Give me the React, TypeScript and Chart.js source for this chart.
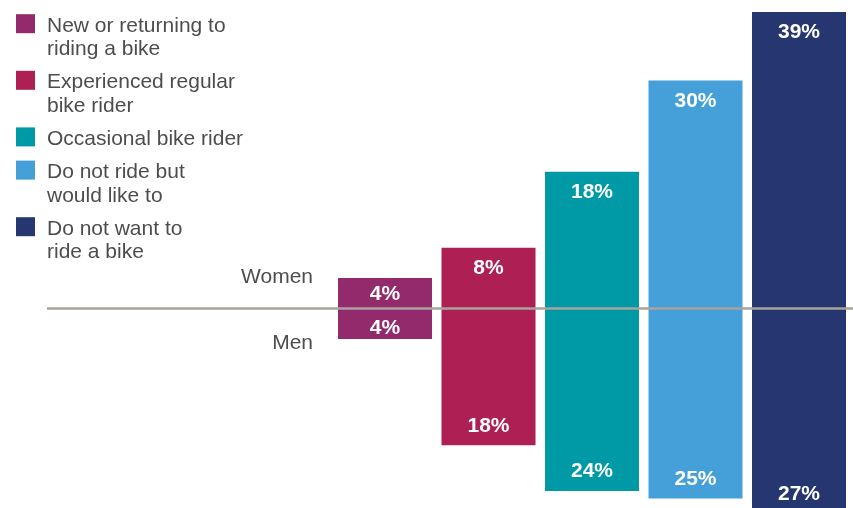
import React, { useEffect, useRef } from "react";
import { Chart, registerables } from "chart.js";

Chart.register(...registerables);

const categories = [
  "New or returning to riding a bike",
  "Experienced regular bike rider",
  "Occasional bike rider",
  "Do not ride but would like to",
  "Do not want to ride a bike",
];
const legendLines = [
  ["New or returning to", "riding a bike"],
  ["Experienced regular", "bike rider"],
  ["Occasional bike rider"],
  ["Do not ride but", "would like to"],
  ["Do not want to", "ride a bike"],
];
const women = [4, 8, 18, 30, 39];
const men = [4, 18, 24, 25, 27];
const colors = ["#922A6B", "#AE1F53", "#009AA6", "#459FD8", "#253670"];
const groupLabels = ["Women", "Men"];

const FONT = '"Liberation Sans", Arial, Helvetica, sans-serif';
const TEXT = "#4D4D4D";
const PX_PER_UNIT = 7.6;
const ZERO_Y = 308.5;
const H = 508;
const W = 853;

export default function App() {
  const ref = useRef<HTMLCanvasElement | null>(null);

  useEffect(() => {
    const canvas = ref.current;
    if (!canvas) return;

    const overlay = {
      id: "overlay",
      afterDatasetsDraw(chart: any) {
        const ctx = chart.ctx;
        const y0 = chart.scales.y.getPixelForValue(0);
        // axis line
        ctx.save();
        ctx.strokeStyle = "#A9A39E";
        ctx.lineWidth = 2.5;
        ctx.beginPath();
        ctx.moveTo(47, y0);
        ctx.lineTo(W, y0);
        ctx.stroke();

        // value labels
        ctx.fillStyle = "#FFFFFF";
        ctx.font = `bold 21px ${FONT}`;
        ctx.textAlign = "center";
        ctx.textBaseline = "alphabetic";
        chart.data.datasets.forEach((ds: any, di: number) => {
          const meta = chart.getDatasetMeta(di);
          meta.data.forEach((bar: any, i: number) => {
            const v = Math.abs(ds.data[i]);
            const top = Math.min(bar.y, bar.base);
            const bottom = Math.max(bar.y, bar.base);
            const h = bottom - top;
            let by: number;
            if (h < 45) {
              by = (top + bottom) / 2 + (di === 0 ? 7 : 10);
            } else if (di === 0) {
              by = top + 26;
            } else {
              by = bottom - 13.5;
            }
            ctx.fillText(`${v}%`, bar.x, by);
          });
        });

        // group labels
        ctx.fillStyle = TEXT;
        ctx.font = `21px ${FONT}`;
        ctx.textAlign = "right";
        ctx.fillText(groupLabels[0], 313, y0 - 25.5);
        ctx.fillText(groupLabels[1], 313, y0 + 40.5);

        // legend
        ctx.textAlign = "left";
        let base = 31.7;
        const lh = 23.4;
        legendLines.forEach((lines, i) => {
          ctx.fillStyle = colors[i];
          ctx.fillRect(16, base - 17.5, 19, 19);
          ctx.fillStyle = TEXT;
          lines.forEach((t, j) => ctx.fillText(t, 47, base + j * lh));
          base += (lines.length - 1) * lh + 33.2;
        });
        ctx.restore();
      },
    };

    const chart = new Chart(canvas, {
      type: "bar",
      data: {
        labels: categories,
        datasets: [
          {
            label: groupLabels[0],
            data: women,
            backgroundColor: colors,
            borderWidth: 0,
            categoryPercentage: 1,
            barPercentage: 94 / 103.5,
          },
          {
            label: groupLabels[1],
            data: men.map((v) => -v),
            backgroundColor: colors,
            borderWidth: 0,
            categoryPercentage: 1,
            barPercentage: 94 / 103.5,
          },
        ],
      },
      options: {
        animation: false,
        responsive: false,
        devicePixelRatio: 1,
        layout: { padding: { left: 333.25, right: 2.25, top: 0, bottom: 0 } },
        plugins: { legend: { display: false }, tooltip: { enabled: false } },
        scales: {
          x: { stacked: true, display: false, offset: true },
          y: {
            stacked: true,
            display: false,
            min: -(H - ZERO_Y) / PX_PER_UNIT,
            max: ZERO_Y / PX_PER_UNIT,
          },
        },
      },
      plugins: [overlay],
    });
    return () => chart.destroy();
  }, []);

  return (
    <div style={{ position: "absolute", left: 0, top: 0, width: W, height: H, background: "#fff" }}>
      <canvas ref={ref} width={W} height={H} style={{ display: "block" }} />
    </div>
  );
}
